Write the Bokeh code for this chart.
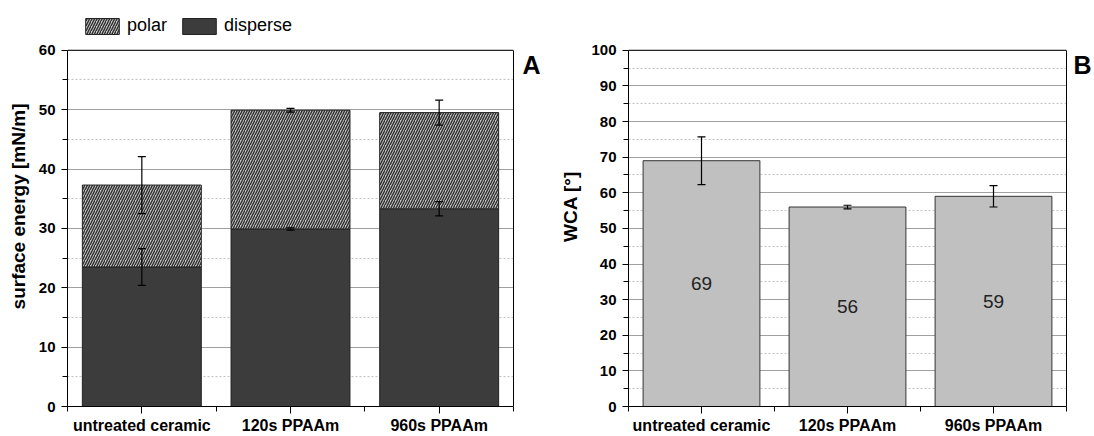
from bokeh.plotting import figure
from bokeh.layouts import row
from bokeh.models import (ColumnDataSource, Whisker, TeeHead, Legend, LegendItem, LinearAxis,
                          FixedTicker, SingleIntervalTicker, Range1d, LabelSet, Span)
from bokeh.core.properties import value
from bokeh.embed import file_html
from bokeh.resources import INLINE

categories = ["untreated ceramic", "120s PPAAm", "960s PPAAm"]
disperse = [23.5, 29.9, 33.3]
disperse_err = [3.1, 0.2, 1.2]
polar = [13.8, 20.0, 16.2]
polar_err = [4.8, 0.3, 2.1]
wca = [69, 56, 59]
wca_err = [6.7, 0.5, 3.0]

FONT = "Liberation Sans"
H = 436
TOP = 6          # canvas top of the (extended) frame
AX_TOP = 50      # where the visible axes box starts
BOTTOM = 28      # bottom border
xpos = [i + 0.5 for i in range(len(categories))]
total = [d + p for d, p in zip(disperse, polar)]


def style(p, ymax, ylabel, letter, letter_pos, letter_standoff):
    frame_bottom = H - BOTTOM
    yend = ymax * (frame_bottom - TOP) / (frame_bottom - AX_TOP)
    p.x_range = Range1d(0, len(categories))
    p.y_range = Range1d(0, yend)
    p.xaxis.ticker = FixedTicker(ticks=xpos, minor_ticks=list(range(len(categories) + 1)))
    p.xaxis.major_label_overrides = {x: c for x, c in zip(xpos, categories)}
    p.yaxis.ticker = SingleIntervalTicker(interval=10, num_minor_ticks=2)
    p.yaxis.bounds = (0, ymax)
    for ax in (p.xaxis, p.yaxis):
        ax.major_label_text_font = FONT
        ax.major_label_text_font_style = "bold"
        ax.major_label_text_color = "black"
        ax.axis_line_color = "black"
        ax.major_tick_line_color = "black"
        ax.minor_tick_line_color = "black"
        ax.major_tick_out = 6
        ax.major_tick_in = 0
        ax.minor_tick_out = 5
        ax.minor_tick_in = 0
    p.xaxis.major_label_text_font_size = "16px"
    p.yaxis.major_label_text_font_size = "15px"
    p.xaxis.major_tick_out = 7
    p.xaxis.major_label_standoff = 3
    p.yaxis.major_label_standoff = 6
    p.yaxis.axis_label = ylabel
    p.yaxis.axis_label_text_font = FONT
    p.yaxis.axis_label_text_font_style = "bold"
    p.yaxis.axis_label_text_font_size = "19px"
    p.yaxis.axis_label_text_color = "black"
    p.yaxis.axis_label_standoff = 7
    p.xgrid.grid_line_color = None
    p.ygrid.bounds = (0, ymax)
    p.ygrid.grid_line_color = "#a0a0a0"
    p.ygrid.grid_line_width = 1
    p.ygrid.minor_grid_line_color = "#c4c4c4"
    p.ygrid.minor_grid_line_dash = "2 2"
    p.outline_line_color = None
    p.background_fill_color = "white"
    p.border_fill_color = "white"
    # top border of the axes box
    p.add_layout(Span(location=ymax, dimension="width", line_color="black", line_width=1))
    # right border of the axes box, carrying the panel letter
    ax = LinearAxis(ticker=FixedTicker(ticks=[letter_pos]), major_label_overrides={letter_pos: letter},
                    bounds=(0, ymax), axis_line_color="black", major_tick_line_color=None,
                    minor_tick_line_color=None,
                    major_tick_out=0, major_tick_in=0, minor_tick_out=0, minor_tick_in=0,
                    major_label_standoff=letter_standoff, major_label_text_font=FONT,
                    major_label_text_font_style="bold", major_label_text_font_size="25px",
                    major_label_text_color="black")
    p.add_layout(ax, "right")


def whisker(src, lo, hi):
    return Whisker(base="x", lower=lo, upper=hi, source=src, level="annotation",
                   line_color="black", line_width=1.2,
                   upper_head=TeeHead(size=8, line_color="black", line_width=1.2),
                   lower_head=TeeHead(size=8, line_color="black", line_width=1.2))


# ---- Panel A ----
pA = figure(width=557, height=H, output_backend="svg", toolbar_location=None,
            min_border_left=67, min_border_right=44, min_border_top=TOP, min_border_bottom=BOTTOM)
style(pA, 60, "surface energy [mN/m]", "A", 57.5, 9)

srcA = ColumnDataSource(dict(x=xpos, disperse=disperse, total=total,
                             d_lo=[d - e for d, e in zip(disperse, disperse_err)],
                             d_hi=[d + e for d, e in zip(disperse, disperse_err)],
                             t_lo=[t - e for t, e in zip(total, polar_err)],
                             t_hi=[t + e for t, e in zip(total, polar_err)]))
r_disp = pA.vbar(x="x", top="disperse", bottom=0, width=0.8, source=srcA,
                 fill_color="#3c3c3c", line_color="#222222", line_width=1)
r_pol = pA.vbar(x="x", top="total", bottom="disperse", width=0.8, source=srcA,
                fill_color="#c6c6c6", line_color="#222222", line_width=1,
                hatch_pattern="right_diagonal_line", hatch_color="#2e2e2e",
                hatch_scale=5, hatch_weight=1.4)
pA.add_layout(whisker(srcA, "d_lo", "d_hi"))
pA.add_layout(whisker(srcA, "t_lo", "t_hi"))

legA = Legend(items=[LegendItem(label="polar", renderers=[r_pol]),
                     LegendItem(label="disperse", renderers=[r_disp])],
              orientation="horizontal", location=(14, H - BOTTOM - 38), padding=0, margin=0,
              spacing=11, label_standoff=4, glyph_width=42, glyph_height=20,
              label_height=20, border_line_color=None, background_fill_alpha=0,
              label_text_font=FONT, label_text_font_size="18px", label_text_color="black")
pA.add_layout(legA, "center")

# ---- Panel B ----
pB = figure(width=537, height=H, output_backend="svg", toolbar_location=None,
            min_border_left=67, min_border_right=24, min_border_top=TOP, min_border_bottom=BOTTOM)
style(pB, 100, "WCA [°]", "B", 96, 7)
srcB = ColumnDataSource(dict(x=xpos, wca=wca, mid=[v / 2 for v in wca],
                             txt=[str(v) for v in wca],
                             lo=[v - e for v, e in zip(wca, wca_err)],
                             hi=[v + e for v, e in zip(wca, wca_err)]))
pB.vbar(x="x", top="wca", bottom=0, width=0.8, source=srcB,
        fill_color="#c0c0c0", line_color="#333333", line_width=1)
pB.add_layout(whisker(srcB, "lo", "hi"))
pB.add_layout(LabelSet(x="x", y="mid", text="txt", source=srcB, text_align="center",
                       text_baseline="middle", text_font=value(FONT), text_font_size="19px",
                       text_color="#222222"))

layout = row(pA, pB, spacing=0)
open("out.html", "w").write(file_html(layout, INLINE))
